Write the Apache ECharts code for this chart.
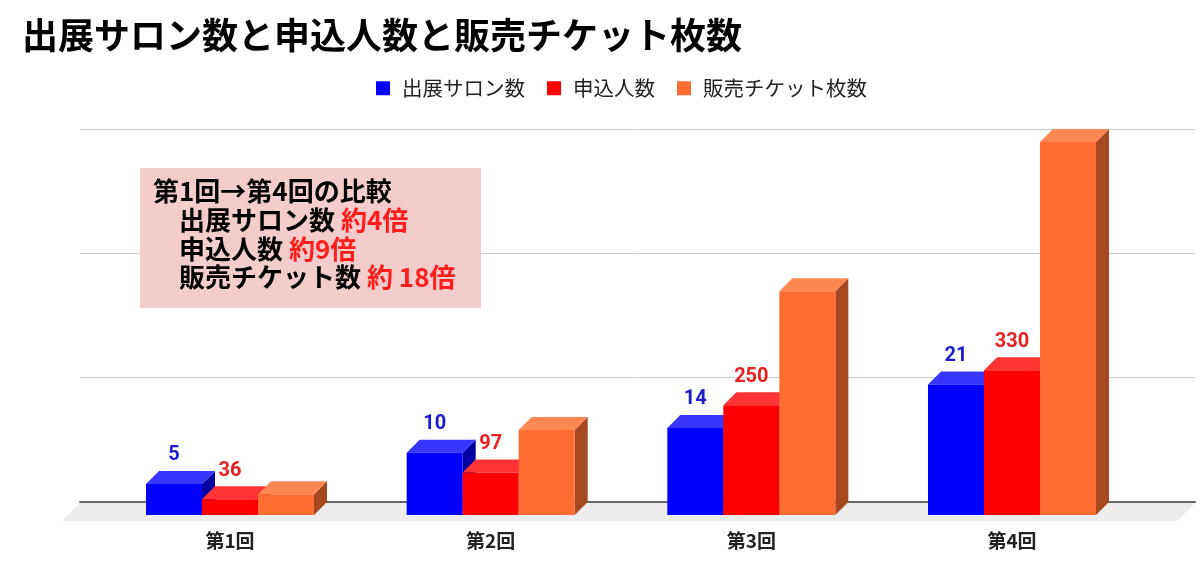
<!DOCTYPE html>
<html>
<head>
<meta charset="utf-8">
<style>html,body{margin:0;padding:0;background:#fff;}#c{width:1200px;height:571px;}</style>
<script src="https://cdn.jsdelivr.net/npm/echarts@6/dist/echarts.min.js"></script>
</head>
<body>
<div id="c"></div>
<script>
const categories = ['第1回', '第2回', '第3回', '第4回'];
const seriesNames = ['出展サロン数', '申込人数', '販売チケット枚数'];
const salonCounts = [5, 10, 14, 21];
const applicantCounts = [36, 97, 250, 330];
const ticketCounts = [50, 205, 540, 900];
const salonAxisMax = 60;
const applicantAxisMax = 850;
const ticketAxisMax = 900;
const ticketAxisInterval = 300;
const noteTitle = '第1回→第4回の比較';
const noteLines = [['出展サロン数', '約4倍'], ['申込人数', '約9倍'], ['販売チケット数', '約 18倍']];

const FONT = '"Noto Sans CJK JP", "Noto Sans", sans-serif';
const D = 13;
const palette = [
  { front: '#0000ff', top: '#3636ff', side: '#0000a3', label: '#1c1ccc' },
  { front: '#ff0000', top: '#ff3535', side: '#b00000', label: '#e82020' },
  { front: '#ff6d33', top: '#ff8752', side: '#a64820', label: null }
];

function barRender(k) {
  return function (params, api) {
    const cat = api.value(0), val = api.value(1);
    const top = api.coord([cat, val]);
    const base = api.coord([cat, 0]);
    const band = api.size([1, 0])[0];
    const gw = band * 0.6445;
    const bw = gw / 3;
    const x0 = top[0] - gw / 2 + k * bw;
    const x1 = x0 + bw;
    const ty = top[1], by = base[1];
    const c = palette[k];
    const children = [
      { type: 'polygon', shape: { points: [[x1, ty + D], [x1 + D, ty], [x1 + D, by], [x1, by + D]] }, style: { fill: c.side } },
      { type: 'polygon', shape: { points: [[x0, ty + D], [x1, ty + D], [x1 + D, ty], [x0 + D, ty]] }, style: { fill: c.top } },
      { type: 'rect', shape: { x: x0, y: ty + D, width: bw, height: by - ty }, style: { fill: c.front } }
    ];
    if (c.label) {
      children.push({
        type: 'text', x: x0 + bw / 2, y: ty - 15.5,
        style: { text: String(val), fill: c.label, font: 'bold 20px Roboto, "Liberation Sans", sans-serif', align: 'center', verticalAlign: 'middle' }
      });
    }
    return { type: 'group', children };
  };
}

const noteText = noteTitle + '\n' + noteLines.map(l => '{k|\u3000' + l[0] + ' }{r|' + l[1] + '}').join('\n');

const option = {
  animation: false,
  backgroundColor: '#ffffff',
  color: [palette[0].front, palette[1].front, palette[2].front],
  title: {
    text: '出展サロン数と申込人数と販売チケット枚数',
    left: 22, top: 17, padding: 0,
    textStyle: { fontFamily: FONT, fontSize: 36, fontWeight: 'bold', color: '#000' }
  },
  legend: {
    data: seriesNames,
    left: 376, top: 78, padding: 0,
    icon: 'rect', itemWidth: 14, itemHeight: 14, itemGap: 22,
    textStyle: { fontFamily: FONT, fontSize: 20.5, color: '#222', padding: [0, 0, 0, 7] }
  },
  grid: [
    { left: 80, right: 5, top: 129, bottom: 69 },
    { left: 99.67, right: 57.66, top: 129, bottom: 69 }
  ],
  xAxis: [
    { type: 'value', gridIndex: 0, min: 0, max: 1, axisLabel: { show: false }, axisTick: { show: false }, splitLine: { show: false },
      axisLine: { show: true, lineStyle: { color: '#666', width: 2 } } },
    { type: 'category', gridIndex: 1, data: categories, boundaryGap: true,
      axisLine: { show: false }, axisTick: { show: false },
      axisLabel: { margin: 29, fontFamily: FONT, fontSize: 19, fontWeight: 'bold', color: '#222' } }
  ],
  yAxis: [
    { type: 'value', gridIndex: 0, min: 0, max: ticketAxisMax, interval: ticketAxisInterval,
      axisLabel: { show: false }, axisLine: { show: false }, axisTick: { show: false },
      splitLine: { show: true, lineStyle: { color: '#cccccc', width: 1 } } },
    { type: 'value', gridIndex: 1, min: 0, max: salonAxisMax, show: false, splitLine: { show: false } },
    { type: 'value', gridIndex: 1, min: 0, max: applicantAxisMax, show: false, splitLine: { show: false } },
    { type: 'value', gridIndex: 1, min: 0, max: ticketAxisMax, show: false, splitLine: { show: false } }
  ],
  series: [
    {
      type: 'custom', name: 'floor', xAxisIndex: 0, yAxisIndex: 0, silent: true, clip: false, z: 1,
      data: [[0, 1]],
      renderItem: function (params, api) {
        const p0 = api.coord([0, 0]);
        const p1 = api.coord([1, 0]);
        return { type: 'polygon', shape: { points: [[p0[0], p0[1] + 1], [p1[0], p1[1] + 1], [p1[0] - 18, p1[1] + 19], [p0[0] - 18, p0[1] + 19]] }, style: { fill: '#ececec' } };
      }
    },
    { type: 'custom', name: seriesNames[0], xAxisIndex: 1, yAxisIndex: 1, clip: false, z: 3,
      itemStyle: { color: palette[0].front }, encode: { x: 0, y: 1 },
      data: salonCounts.map((v, i) => [i, v]), renderItem: barRender(0) },
    { type: 'custom', name: seriesNames[1], xAxisIndex: 1, yAxisIndex: 2, clip: false, z: 4,
      itemStyle: { color: palette[1].front }, encode: { x: 0, y: 1 },
      data: applicantCounts.map((v, i) => [i, v]), renderItem: barRender(1) },
    { type: 'custom', name: seriesNames[2], xAxisIndex: 1, yAxisIndex: 3, clip: false, z: 5,
      itemStyle: { color: palette[2].front }, encode: { x: 0, y: 1 },
      data: ticketCounts.map((v, i) => [i, v]), renderItem: barRender(2) }
  ],
  graphic: [
    { type: 'rect', left: 140, top: 168, z: 10, shape: { width: 341, height: 140 }, style: { fill: '#f4cccc' } },
    { type: 'text', left: 153, top: 177, z: 11,
      style: {
        text: noteText,
        font: 'bold 26px ' + FONT, fill: '#000', lineHeight: 28.7,
        rich: {
          k: { font: 'bold 26px ' + FONT, fill: '#000', lineHeight: 28.7 },
          r: { font: 'bold 26px ' + FONT, fill: '#ff1c1c', lineHeight: 28.7 }
        }
      } }
  ]
};

const chart = echarts.init(document.getElementById('c'), null, { renderer: 'canvas' });
chart.setOption(option);
</script>
</body>
</html>
